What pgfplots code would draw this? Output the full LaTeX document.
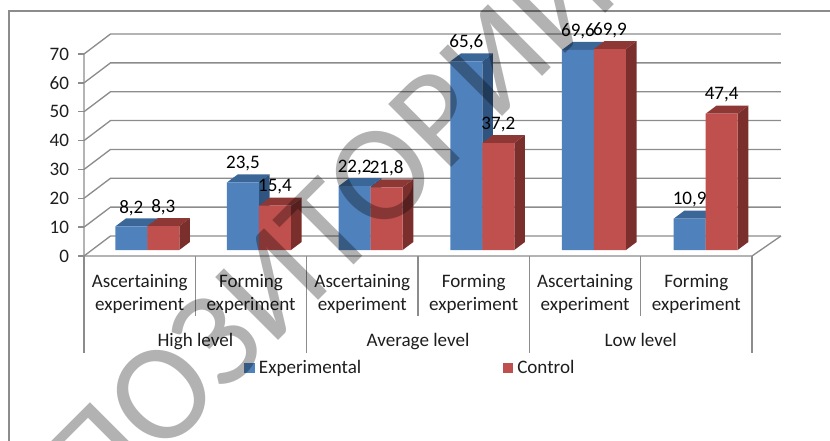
\documentclass[border=0pt]{standalone}
\usepackage{fontspec}
\setmainfont{Carlito}
\usepackage{pgfplots}
\usepackage{pgfplotstable}
\pgfplotsset{compat=1.18}
\pgfplotstableread{
x exp ctrl
0 8.2 8.3
1 23.5 15.4
2 22.2 21.8
3 65.6 37.2
4 69.6 69.9
5 10.9 47.4
}\bardata
\definecolor{bluef}{RGB}{79,129,189}
\definecolor{bluet}{RGB}{59,103,152}
\definecolor{blues}{RGB}{47,84,128}
\definecolor{redf}{RGB}{192,80,77}
\definecolor{redt}{RGB}{142,56,53}
\definecolor{reds}{RGB}{122,47,45}
\definecolor{gridc}{RGB}{140,140,140}
\definecolor{txtc}{RGB}{30,30,30}
\newcommand\lblfont{\fontsize{14.3}{17.5}\selectfont}
% one bar's top and side faces, from the table
\newcommand\cuboid[5]{% row, column, left offset, top colour, side colour
  \pgfplotstablegetelem{#1}{#2}\of\bardata
  \let\val\pgfplotsretval
  \pgfmathsetmacro\xl{#1+#3}
  \pgfmathsetmacro\xr{\xl+0.2865}
  \pgfmathsetmacro\xld{\xl+0.0958}
  \pgfmathsetmacro\xrd{\xr+0.0958}
  \pgfmathsetmacro\vt{\val+2.78}
  \edef\temp{\noexpand\addplot[fill=#4,draw=none,no markers,forget plot] coordinates {(\xl,\val)(\xld,\vt)(\xrd,\vt)(\xr,\val)(\xl,\val)};
  \noexpand\addplot[fill=#5,draw=none,no markers,forget plot] coordinates {(\xr,0)(\xrd,2.78)(\xrd,\vt)(\xr,\val)(\xr,0)};}%
  \temp
}
\newcommand\gridline[1]{%
  \pgfmathsetmacro\gb{#1+6.93}%
  \edef\temp{\noexpand\addplot[gridc,line width=1pt,no markers,forget plot] coordinates {(-0.5,#1)(-0.262,\gb)(5.76,\gb)};}%
  \temp
}
\begin{document}
\begin{tikzpicture}[x=0.75pt,y=-0.75pt]
\path[use as bounding box] (0,0) rectangle (830,441);
\draw[gridc,line width=1pt] (9,441) -- (9,11) -- (830,11);
% walls, ticks, category labels
\begin{axis}[
  at={(63pt,-192pt)},anchor=south west,scale only axis,
  width=501pt,height=151.5pt,
  xmin=-0.5,xmax=5.5,ymin=0,ymax=70,
  clip=false,
  axis line style={draw=none},
  ytick={0,10,...,70},
  xtick={0,...,5},
  xticklabels={{Ascertaining\\experiment},{Forming\\experiment},{Ascertaining\\experiment},{Forming\\experiment},{Ascertaining\\experiment},{Forming\\experiment}},
  xticklabel style={align=center,font=\lblfont,text=txtc,anchor=north,inner sep=0pt,yshift=-9pt},
  yticklabel style={font=\lblfont,text=txtc,inner sep=2pt,xshift=-4.5pt},
  ytick pos=left,
  tick align=outside,
  x tick style={draw=none},
  y tick style={draw=gridc,line width=1pt},
  major tick length=4.5pt,
  /pgf/number format/assume math mode=true,
]
\pgfplotsinvokeforeach{0,10,...,70}{\gridline{#1}}
\addplot[gridc,line width=1pt,no markers,forget plot] coordinates {(-0.5,70)(-0.5,0)(5.5,0)(5.76,6.93)};
\addplot[gridc,line width=1pt,no markers,forget plot] coordinates {(-0.5,0)(-0.5,-33.6)};
\addplot[gridc,line width=1pt,no markers,forget plot] coordinates {(1.5,0)(1.5,-33.6)};
\addplot[gridc,line width=1pt,no markers,forget plot] coordinates {(3.5,0)(3.5,-33.6)};
\addplot[gridc,line width=1pt,no markers,forget plot] coordinates {(5.5,0)(5.5,-33.6)};
\addplot[gridc,line width=1pt,no markers,forget plot] coordinates {(0.5,0)(0.5,-20.8)};
\addplot[gridc,line width=1pt,no markers,forget plot] coordinates {(2.5,0)(2.5,-20.8)};
\addplot[gridc,line width=1pt,no markers,forget plot] coordinates {(4.5,0)(4.5,-20.8)};
\node[font=\lblfont,text=txtc,anchor=base] at (axis cs:0.5,-31.5) {High level};
\node[font=\lblfont,text=txtc,anchor=base] at (axis cs:2.5,-31.5) {Average level};
\node[font=\lblfont,text=txtc,anchor=base] at (axis cs:4.5,-31.5) {Low level};
\end{axis}
% bars
\begin{axis}[
  at={(68.595pt,-187.5pt)},anchor=south west,scale only axis,
  width=502.5pt,height=150.94pt,
  xmin=-0.5,xmax=5.5,ymin=0,ymax=70,
  clip=false,hide axis,
  bar width=24pt,
  legend style={draw=none,fill=none,at={(0.2277,-0.587)},anchor=west,font=\lblfont,text=txtc,
    legend cell align=left,inner sep=0pt,
    /tikz/every even column/.append style={column sep=104pt}},
  legend columns=2,
  legend image code/.code={\fill[#1] (0pt,-4pt) rectangle (8pt,4pt); \path (9pt,0pt);},
  lbl/.style={forget plot,ybar,draw=none,fill=none,nodes near coords,
    every node near coord/.append style={anchor=center,yshift=14pt,xshift=#1,font=\lblfont,text=black,inner sep=0pt},
    /pgf/number format/use comma,/pgf/number format/fixed,/pgf/number format/fixed zerofill,/pgf/number format/precision=1,/pgf/number format/assume math mode=true},
]
\pgfplotsinvokeforeach{0,...,5}{\cuboid{#1}{exp}{-0.2865}{bluet}{blues}}
\addplot[ybar,bar shift=-12pt,fill=bluef,draw=none] table[x=x,y=exp] {\bardata};
\addlegendentry{Experimental}
\pgfplotsinvokeforeach{0,...,5}{\cuboid{#1}{ctrl}{0}{redt}{reds}}
\addplot[ybar,bar shift=12pt,fill=redf,draw=none] table[x=x,y=ctrl] {\bardata};
\addlegendentry{Control}
\addplot[lbl=-12pt,bar shift=-12pt] table[x=x,y=exp] {\bardata};
\addplot[lbl=12pt,bar shift=12pt] table[x=x,y=ctrl] {\bardata};
\end{axis}
% watermark
\begin{scope}
\clip (0,0) rectangle (830,441);
\node[rotate=45,anchor=base,text=black,text opacity=0.3,inner sep=0pt,font=\fontsize{104}{104}\selectfont] at (311,308) {РЕПОЗИТОРИЙ};
\end{scope}
\end{tikzpicture}
\end{document}
